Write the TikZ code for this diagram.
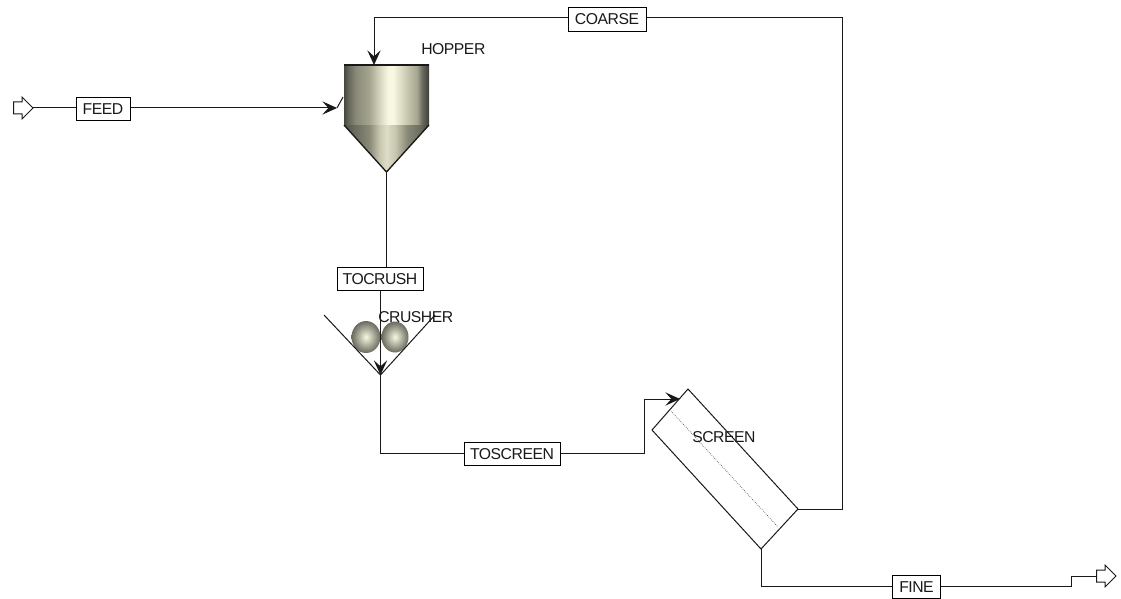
\documentclass[tikz,border=0pt]{standalone}
\usepackage{fontspec}
\setmainfont{Liberation Sans}
\usetikzlibrary{arrows.meta,calc}
\definecolor{hd}{HTML}{3F3F38}
\definecolor{hk}{HTML}{6A6A5E}
\definecolor{hg}{HTML}{8A8A78}
\definecolor{hm}{HTML}{A5A590}
\definecolor{hs}{HTML}{C8C8B0}
\definecolor{hn}{HTML}{DEDEC8}
\definecolor{hl}{HTML}{F8F8E2}
\pgfdeclarehorizontalshading{hopperbody}{100bp}{
 color(0bp)=(hd); color(25bp)=(hd!80!hk); color(28bp)=(hk); color(32bp)=(hg); color(40bp)=(hm); color(47bp)=(hn);
 color(51bp)=(hl); color(54bp)=(hl); color(62bp)=(hs); color(68bp)=(hm); color(71bp)=(hk); color(75bp)=(hd); color(100bp)=(hd)}
\pgfdeclarehorizontalshading{hoppercone}{100bp}{
 color(0bp)=(hd); color(25bp)=(hd!60!hk); color(31bp)=(hk); color(40bp)=(hg); color(46bp)=(hs);
 color(50bp)=(hn); color(55bp)=(hs); color(62bp)=(hg); color(70bp)=(hk); color(75bp)=(hd); color(100bp)=(hd)}
\newfontface\labelface{Liberation Sans}[LetterSpace=-3]
\tikzset{
 x=0.75pt,y=-0.75pt,
 stream/.style={draw=black,line width=0.75pt,fill=white,inner sep=0pt,minimum height=17.5pt,font=\fontsize{11.8}{13}\labelface,text=black!90},
 label/.style={inner sep=0pt,font=\fontsize{11.8}{13}\labelface,text=black!90},
 line/.style={draw=black!90,line width=0.75pt,line join=miter},
 into/.style={-{Stealth[length=11pt,width=10pt,inset=4.5pt]}},
 port/.pic={\draw[line,fill=white] (-19.5,-6) -- (-11,-6) -- (-11,-11) -- (0,0) -- (-11,11) -- (-11,6) -- (-19.5,6) -- cycle;},
}
\begin{document}
\begin{tikzpicture}
\useasboundingbox (0,0) rectangle (1121,599);
% equipment anchor points
\coordinate (hopTL) at (344,65);
\coordinate (hopTR) at (429,65);
\coordinate (hopML) at (344,125);
\coordinate (hopMR) at (429,125);
\coordinate (hopApex) at (386.5,172);
\coordinate (hopRecycle) at (374,65);
\coordinate (hopFeed) at (343,97);
\coordinate (crushL) at (324,315);
\coordinate (crushR) at (435,315);
\coordinate (crushApex) at (380.5,375);
\coordinate (scrT) at (688,389);
\coordinate (scrL) at (652,430);
\coordinate (scrB) at (761,549);
\coordinate (scrR) at (798,509);
\coordinate (scrIn) at (680,399);
\coordinate (dotA) at (671,411);
\coordinate (dotB) at (778,527);
% hopper
\path[shading=hoppercone] (hopML) -- (hopMR) -- (hopApex) -- cycle;
\path[shading=hopperbody] (hopTL) rectangle (hopMR);
\draw[line,line width=1.1pt] (hopTL) -- (hopTR);
\draw[line,line width=1pt] (hopML) -- (hopApex) -- (hopMR);
% crusher
\shade[inner color=hl,outer color=hk] (366,337) ellipse [x radius=14.5,y radius=16];
\shade[inner color=hl,outer color=hk] (395,337) ellipse [x radius=13.5,y radius=15.5];
\draw[line] (crushL) -- (crushApex) -- (crushR);
% screen
\draw[line,fill=white] (scrT) -- (scrL) -- (scrB) -- (scrR) -- cycle;
\draw[black!70,line width=0.5pt,densely dotted] (dotA) -- (dotB);
% stream tags
\node[stream,minimum width=40.5pt] (feed) at (103,109) {FEED};
\node[stream,minimum width=64.5pt] (tocrush) at (380,279) {TOCRUSH};
\node[stream,minimum width=72pt] (toscreen) at (512,454) {TOSCREEN};
\node[stream,minimum width=58.5pt] (coarse) at (607,19.5) {COARSE};
\node[stream,minimum width=36pt] (fine) at (916.5,587) {FINE};
% ports
\coordinate (feedSrc) at (33,108);
\coordinate (fineDst) at (1096,576);
\pic at (33,108) {port};
\pic at (1116,576) {port};
% connectors
\draw[line] (feedSrc) -- (feed.west |- feedSrc);
\draw[line,into] (feed.east |- feedSrc) -- (337,108) coordinate (feedTip);
\draw[line] (feedTip) -- (hopFeed);
\draw[line] (hopApex) -- (hopApex |- tocrush.north);
\draw[line,into] (crushApex |- tocrush.south) -- (crushApex);
\draw[line] (crushApex) |- (toscreen.west |- 0,453);
\draw[line,into] (toscreen.east |- 0,453) -| (644,399) -- (scrIn);
\draw[line] (scrR) -| (842,18) -- (coarse.east |- 842,18);
\draw[line,into] (coarse.west |- 0,18) -| (hopRecycle);
\draw[line] (scrB) |- (fine.west |- 0,586);
\draw[line] (fine.east |- 0,586) -| (1071.5,576) -- (fineDst);
% equipment labels
\node[label,anchor=west] (hoplab) at (421,49) {HOPPER};
\node[label,anchor=west] (crushlab) at (378,317) {CRUSHER};
\node[label,anchor=west] (scrlab) at (692,437) {SCREEN};
\end{tikzpicture}
\end{document}
